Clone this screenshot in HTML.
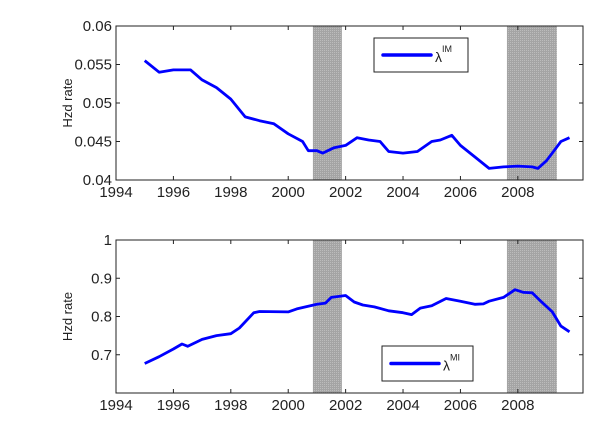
<!DOCTYPE html>
<html><head><meta charset="utf-8"><style>
body{margin:0;background:#fff;}
svg text{font-family:"Liberation Sans",Arial,sans-serif;fill:#222;}
</style></head><body>
<svg id="c" width="600" height="423" xmlns="http://www.w3.org/2000/svg"></svg>
<script>
const xTicks=[1994,1996,1998,2000,2002,2004,2006,2008];
const recessions=[[2000.86,2001.87],[2007.62,2009.36]];
const topYears=[1995,1995.5,1996,1996.6,1997,1997.5,1998,1998.5,1999,1999.5,2000,2000.5,2000.7,2001,2001.2,2001.6,2002,2002.4,2002.8,2003.2,2003.5,2004,2004.5,2005,2005.3,2005.7,2006,2006.5,2007,2007.5,2008,2008.5,2008.7,2009,2009.3,2009.5,2009.8];
const topValues=[0.0555,0.054,0.0543,0.0543,0.053,0.052,0.0505,0.0482,0.0477,0.0473,0.046,0.045,0.0438,0.0438,0.0435,0.0442,0.0445,0.0455,0.0452,0.045,0.0437,0.0435,0.0437,0.045,0.0452,0.0458,0.0445,0.043,0.0415,0.0417,0.0418,0.0417,0.0415,0.0425,0.044,0.045,0.0455];
const topTicks=[0.04,0.045,0.05,0.055,0.06];
const topTickLabels=["0.04","0.045","0.05","0.055","0.06"];
const botYears=[1995,1995.5,1996,1996.3,1996.5,1997,1997.5,1998,1998.3,1998.8,1999,2000,2000.3,2001,2001.3,2001.5,2002,2002.3,2002.6,2003,2003.5,2004,2004.3,2004.6,2005,2005.5,2006,2006.5,2006.8,2007,2007.5,2007.9,2008.2,2008.5,2008.8,2009.2,2009.5,2009.8];
const botValues=[0.677,0.695,0.715,0.728,0.722,0.74,0.75,0.755,0.77,0.81,0.813,0.812,0.82,0.832,0.835,0.85,0.855,0.838,0.83,0.825,0.815,0.81,0.805,0.822,0.828,0.847,0.84,0.832,0.833,0.84,0.85,0.87,0.863,0.862,0.84,0.812,0.775,0.76];
const botTicks=[0.6,0.7,0.8,0.9,1];
const botTickLabels=["","0.7","0.8","0.9","1"];

const NS="http://www.w3.org/2000/svg";
const svg=document.getElementById('c');
function mk(t,a,p){const e=document.createElementNS(NS,t);for(const k in a)e.setAttribute(k,a[k]);(p||svg).appendChild(e);return e;}
const X0=116,X1=583,XMIN=1994,XMAX=2010.27;
const sx=v=>X0+(v-XMIN)/(XMAX-XMIN)*(X1-X0);
const defs=mk('defs',{});
const pat=mk('pattern',{id:'hatch',width:2,height:2,patternUnits:'userSpaceOnUse'},defs);
mk('rect',{width:2,height:2,fill:'#a4a4a4'},pat);
mk('rect',{width:1,height:1,fill:'#bcbcbc'},pat);

function panel(name,top,bot,ymin,ymax,ticks,labels,years,vals,legend,lx,ly,lw,lh){
  const sy=v=>bot-(v-ymin)/(ymax-ymin)*(bot-top);
  const g=mk('g',{});
  
  
  mk('rect',{x:X0,y:top,width:X1-X0,height:bot-top,fill:'#fff'},g);
  recessions.forEach(r=>{
    const e=mk('rect',{x:sx(r[0]),y:top,width:sx(r[1])-sx(r[0]),height:bot-top,fill:'url(#hatch)'},g);
    
    
  });
  let d='';years.forEach((y,i)=>{d+=(i?'L':'M')+sx(y).toFixed(1)+','+sy(vals[i]).toFixed(1);});
  const ln=mk('path',{d:d,fill:'none',stroke:'#0000ff','stroke-width':2.8,'stroke-linejoin':'round'},g);
  
  
  mk('rect',{x:X0,y:top,width:X1-X0,height:bot-top,fill:'none',stroke:'#222','stroke-width':1},g);
  xTicks.forEach(t=>{
    const x=sx(t);
    mk('line',{x1:x,x2:x,y1:bot,y2:bot-4,stroke:'#222'},g);
    mk('line',{x1:x,x2:x,y1:top,y2:top+4,stroke:'#222'},g);
    const tx=mk('text',{x:x,y:bot+17,'font-size':15,'text-anchor':'middle'},g);tx.textContent=t;
    
    
  });
  ticks.forEach((t,i)=>{
    const y=sy(t);
    mk('line',{x1:X0,x2:X0+4,y1:y,y2:y,stroke:'#222'},g);
    mk('line',{x1:X1,x2:X1-4,y1:y,y2:y,stroke:'#222'},g);
    const tx=mk('text',{x:X0-4,y:y+5,'font-size':15,'text-anchor':'end'},g);tx.textContent=labels[i];
    
    
  });
  const yt=mk('text',{x:0,y:0,'font-size':13,'text-anchor':'middle',transform:`translate(72,${(top+bot)/2}) rotate(-90)`},g);
  yt.textContent='Hzd rate';
  
  
  const lg=mk('g',{},g);
  
  
  mk('rect',{x:lx,y:ly,width:lw,height:lh,fill:'#fff',stroke:'#222'},lg);
  mk('line',{x1:lx+9,x2:lx+57,y1:ly+lh/2,y2:ly+lh/2,stroke:'#0000ff','stroke-width':3.5,'stroke-linecap':'round'},lg);
  const lt=mk('text',{x:lx+61,y:ly+lh/2+7,'font-size':14},lg);
  lt.textContent='λ';
  const sup=mk('tspan',{dy:-10,'font-size':9},lt);sup.textContent=legend;
}
panel('top-panel',26,180,0.04,0.06,topTicks,topTickLabels,topYears,topValues,'IM',374,38,94,34);
panel('bottom-panel',240,393,0.6,1.0,botTicks,botTickLabels,botYears,botValues,'MI',382,346,91,35);
</script>
</body></html>
